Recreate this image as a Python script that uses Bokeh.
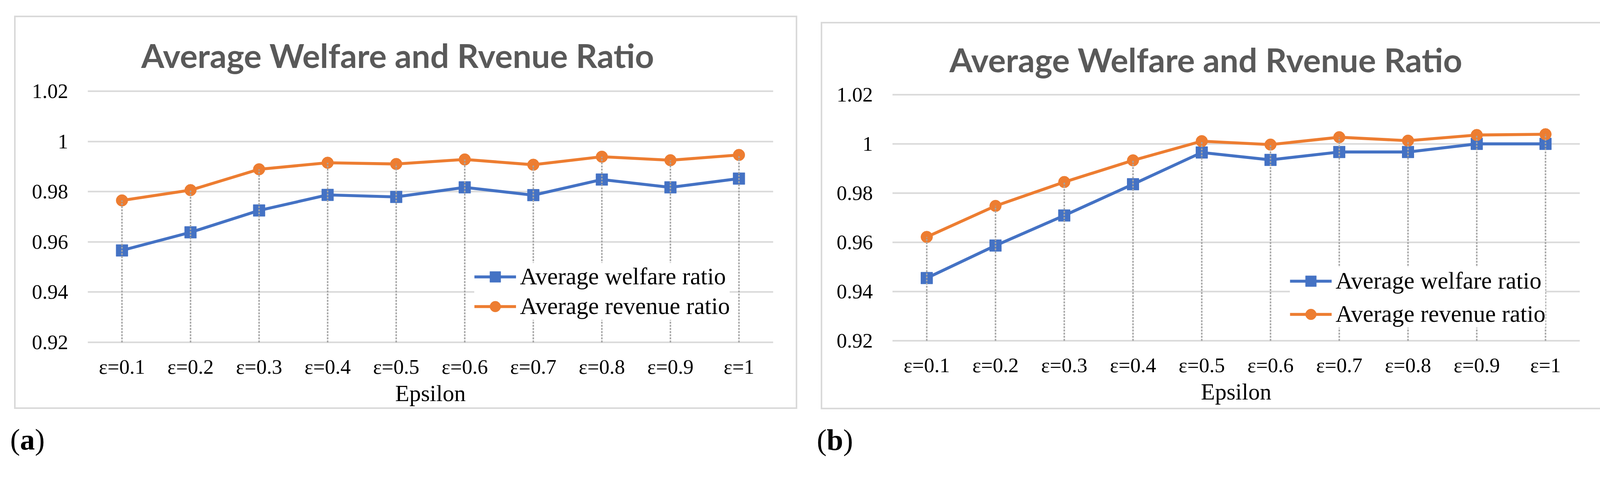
from bokeh.plotting import figure
from bokeh.models import (Range1d, FactorRange, FixedTicker, Legend, LegendItem, Title, Div)
from bokeh.layouts import row, column
from bokeh.embed import file_html
from bokeh.resources import INLINE

# ---------------- data ----------------
categories = ["ε=0.1", "ε=0.2", "ε=0.3", "ε=0.4", "ε=0.5",
              "ε=0.6", "ε=0.7", "ε=0.8", "ε=0.9", "ε=1"]

welfare_a = [0.9566, 0.9638, 0.9725, 0.9787, 0.9779, 0.9817, 0.9786, 0.9848, 0.9817, 0.9852]
revenue_a = [0.9765, 0.9806, 0.9889, 0.9915, 0.9910, 0.9928, 0.9907, 0.9939, 0.9925, 0.9946]

welfare_b = [0.9455, 0.9587, 0.9709, 0.9836, 0.9965, 0.9935, 0.9967, 0.9967, 1.0000, 1.0000]
revenue_b = [0.9622, 0.9748, 0.9845, 0.9933, 1.0011, 0.9997, 1.0027, 1.0013, 1.0036, 1.0039]

y_ticks = [0.92, 0.94, 0.96, 0.98, 1.0, 1.02]
y_tick_labels = ["0.92", "0.94", "0.96", "0.98", "1", "1.02"]
y_min, y_max = 0.92, 1.02

title_text = "Average Welfare and Rvenue Ratio"
x_label = "Epsilon"
series_names = ["Average welfare ratio", "Average revenue ratio"]
panel_labels = ["a", "b"]

BLUE = "#4472C4"
ORANGE = "#ED7D31"
GRID = "#D9D9D9"
DROP = "#A5A5A5"
SERIF = "Liberation Serif"


def make_panel(welfare, revenue, frame_w, frame_h, mb, title_offset, title_standoff,
               legend_loc, legend_spacing, margin):
    pad = 0.0006
    p = figure(frame_width=frame_w, frame_height=frame_h,
               x_range=FactorRange(*categories, range_padding=0),
               y_range=Range1d(y_min - pad, y_max + pad),
               output_backend="svg", toolbar_location=None,
               min_border_left=mb[0], min_border_right=mb[1],
               min_border_top=mb[2], min_border_bottom=mb[3],
               margin=margin,
               styles={"box-shadow": "0 0 0 4px #D9D9D9"})
    p.outline_line_color = None
    p.background_fill_color = "white"
    p.border_fill_color = "white"

    t = Title(text=title_text, text_font="Lato", text_font_style="bold",
              text_font_size="85px", text_color="#595959", align="left",
              offset=title_offset, standoff=title_standoff)
    p.add_layout(t, "above")

    # axes
    p.xaxis.axis_label = x_label
    for ax in (p.xaxis[0], p.yaxis[0]):
        ax.axis_line_color = None
        ax.major_tick_line_color = None
        ax.minor_tick_line_color = None
        ax.major_tick_out = 0
        ax.major_tick_in = 0
        ax.minor_tick_out = 0
        ax.minor_tick_in = 0
        ax.major_label_text_font = SERIF
        ax.major_label_text_color = "black"
    p.xaxis.major_label_text_font_size = "53px"
    p.xaxis.major_label_standoff = 29
    p.xaxis.axis_label_text_font = SERIF
    p.xaxis.axis_label_text_font_size = "59px"
    p.xaxis.axis_label_text_font_style = "normal"
    p.xaxis.axis_label_text_color = "black"
    p.xaxis.axis_label_standoff = 3
    p.yaxis.major_label_text_font_size = "53px"
    p.yaxis.major_label_standoff = 50
    p.yaxis.ticker = FixedTicker(ticks=y_ticks)
    p.yaxis.major_label_overrides = dict(zip(y_ticks, y_tick_labels))

    p.xgrid.grid_line_color = None
    p.ygrid.ticker = FixedTicker(ticks=y_ticks)
    p.ygrid.grid_line_color = GRID
    p.ygrid.grid_line_width = 4

    # series
    lw = p.line(categories, welfare, line_color=BLUE, line_width=7.6)
    sw = p.scatter(categories, welfare, marker="square", size=30,
                   fill_color=BLUE, line_color=BLUE)
    lr = p.line(categories, revenue, line_color=ORANGE, line_width=7.6)
    sr = p.scatter(categories, revenue, marker="circle", size=30,
                   fill_color=ORANGE, line_color=ORANGE)

    # drop lines from highest series point down to the axis minimum
    tops = [max(a, b) for a, b in zip(welfare, revenue)]
    p.segment(x0=categories, y0=[y_min] * len(categories), x1=categories, y1=tops,
              line_color=DROP, line_width=3.8, line_dash="5 3")

    legend = Legend(items=[LegendItem(label=series_names[0], renderers=[lw, sw]),
                           LegendItem(label=series_names[1], renderers=[lr, sr])],
                    location=legend_loc, orientation="vertical",
                    glyph_width=107, glyph_height=69, label_height=69,
                    label_standoff=10, spacing=legend_spacing, padding=10, margin=0,
                    label_text_font=SERIF, label_text_font_size="61px",
                    label_text_color="black",
                    background_fill_color="white", background_fill_alpha=1.0,
                    border_line_color=None)
    p.add_layout(legend, "center")
    return p


def label_div(letter, margin):
    html = ('<div style="font-family:\'Liberation Serif\';font-size:76px;'
            'line-height:1;color:black;white-space:nowrap;">(<b>%s</b>)</div>' % letter)
    return Div(text=html, width=150, height=86, margin=margin)


pa = make_panel(welfare_a, revenue_a, 1755, 651, (184, 58, 185, 163),
                title_offset=137, title_standoff=75, legend_loc=(990, 61),
                legend_spacing=6, margin=(44, 0, 0, 40))
pb = make_panel(welfare_b, revenue_b, 1760, 638, (179, 60, 178, 168),
                title_offset=146, title_standoff=72, legend_loc=(1018, 37),
                legend_spacing=15, margin=(60, 0, 0, 68))

da = label_div(panel_labels[0], (44, 0, 0, 26))
db = label_div(panel_labels[1], (44, 0, 0, 54))

layout = row(column(pa, da), column(pb, db))
open("out.html", "w").write(file_html(layout, INLINE))
